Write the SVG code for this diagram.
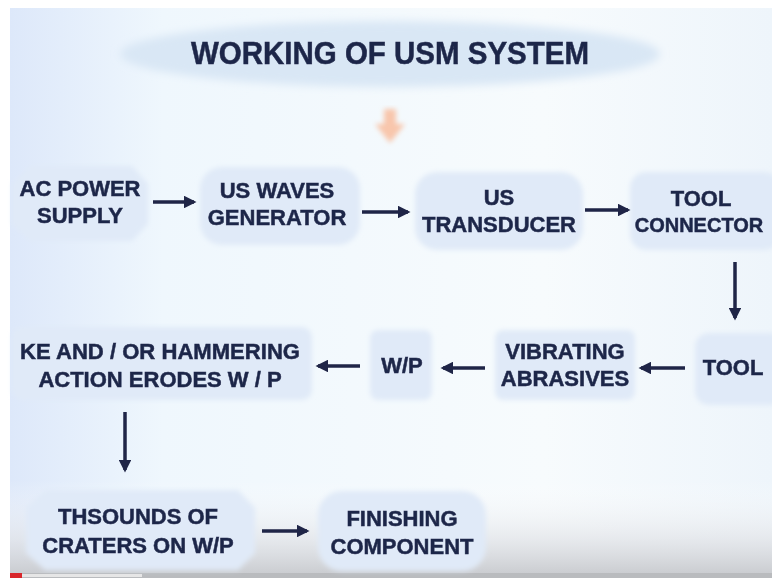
<svg xmlns="http://www.w3.org/2000/svg" width="772" height="578" viewBox="0 0 772 578">
<defs>
<linearGradient id="bg" x1="0" y1="0" x2="1" y2="0">
<stop offset="0" stop-color="#dde8fa"/>
<stop offset="0.2" stop-color="#eff7fd"/>
<stop offset="0.7" stop-color="#f7fbfd"/>
<stop offset="1" stop-color="#eef5fb"/>
</linearGradient>
<linearGradient id="bot" x1="0" y1="0" x2="0" y2="1">
<stop offset="0" stop-color="#ffffff" stop-opacity="0"/>
<stop offset="0.6" stop-color="#e2e4e8" stop-opacity="0.75"/>
<stop offset="1" stop-color="#c6c8cc" stop-opacity="1"/>
</linearGradient>
<filter id="soft" x="-10%" y="-10%" width="120%" height="120%">
<feGaussianBlur stdDeviation="2.5"/>
</filter>
<filter id="soft2" x="-10%" y="-20%" width="120%" height="140%">
<feGaussianBlur stdDeviation="4"/>
</filter>
<filter id="blurtxt" x="-5%" y="-20%" width="110%" height="140%">
<feGaussianBlur stdDeviation="0.6"/>
</filter>
<marker id="ah" viewBox="0 0 10 10" refX="8" refY="5" markerWidth="3.6" markerHeight="3.6" orient="auto" markerUnits="strokeWidth">
<path d="M0,0 L10,5 L0,10 z" fill="#1f2547"/>
</marker>
</defs>
<style>
.box{fill:#e0eaf8;filter:url(#soft)}
.t{font-family:"Liberation Sans",Arial,sans-serif;font-weight:bold;font-size:22px;fill:#1f2749;stroke:#1f2749;stroke-width:0.5;text-anchor:middle;filter:url(#blurtxt)}
.c{stroke:#1f2547;stroke-width:3.5;fill:none;marker-end:url(#ah)}
</style>
<rect width="772" height="578" fill="#ffffff"/>
<rect x="10" y="8" width="762" height="570" fill="url(#bg)"/>
<rect x="10" y="480" width="762" height="98" fill="url(#bot)"/>
<rect x="10" y="573" width="762" height="5" fill="#b9bbbe"/>
<rect x="10" y="573" width="12" height="5" fill="#d8262b"/>
<rect x="22" y="574" width="120" height="3" fill="#e6e6e6"/>

<g id="title">
<ellipse cx="390" cy="54" rx="270" ry="33" fill="#d9e7f5" filter="url(#soft2)"/>
<text x="390" y="64" class="t" style="font-size:31px" textLength="398" lengthAdjust="spacingAndGlyphs">WORKING OF USM SYSTEM</text>
</g>
<g id="orange-arrow">
<path d="M384,109 L396,109 L396,124 L405,124 L390,143 L375,124 L384,124 z" fill="#f8c6ac" filter="url(#soft)"/>
</g>

<g id="ac-power">
<path d="M30,166 L132,166 L148,184 L148,224 L132,241 L30,241 L12,224 L12,184 z" class="box"/>
<text x="80" y="196" class="t">AC POWER</text>
<text x="80" y="223" class="t">SUPPLY</text>
</g>
<g id="us-waves">
<rect x="200" y="167" width="160" height="78" rx="22" class="box"/>
<text x="277" y="198" class="t">US WAVES</text>
<text x="277" y="225" class="t">GENERATOR</text>
</g>
<g id="us-transducer">
<rect x="415" y="172" width="168" height="78" rx="22" class="box"/>
<text x="499" y="205" class="t">US</text>
<text x="499" y="232" class="t">TRANSDUCER</text>
</g>
<g id="tool-connector">
<rect x="630" y="172" width="150" height="78" rx="16" class="box"/>
<text x="701" y="206" class="t">TOOL</text>
<text x="699" y="232" class="t" style="font-size:20px">CONNECTOR</text>
</g>
<g id="tool">
<rect x="695" y="333" width="90" height="72" rx="14" class="box"/>
<text x="733" y="375" class="t">TOOL</text>
</g>
<g id="vibrating-abrasives">
<rect x="495" y="330" width="140" height="70" rx="8" class="box"/>
<text x="565" y="359" class="t">VIBRATING</text>
<text x="565" y="386" class="t">ABRASIVES</text>
</g>
<g id="wp">
<rect x="370" y="330" width="62" height="70" rx="8" class="box"/>
<text x="402" y="373" class="t">W/P</text>
</g>
<g id="ke-action">
<rect x="12" y="327" width="300" height="73" rx="10" class="box"/>
<text x="160" y="359" class="t" textLength="280" lengthAdjust="spacingAndGlyphs">KE AND / OR HAMMERING</text>
<text x="160" y="387" class="t">ACTION ERODES W / P</text>
</g>
<g id="thsounds">
<path d="M45,490 L238,490 L255,508 L255,553 L238,570 L45,570 L26,553 L26,508 z" class="box"/>
<text x="138" y="524" class="t">THSOUNDS OF</text>
<text x="138" y="553" class="t">CRATERS ON W/P</text>
</g>
<g id="finishing">
<rect x="318" y="491" width="168" height="80" rx="24" class="box"/>
<text x="402" y="526" class="t">FINISHING</text>
<text x="402" y="554" class="t">COMPONENT</text>
</g>

<g id="connectors">
<line x1="153" y1="202" x2="194" y2="202" class="c"/>
<line x1="362" y1="212" x2="408" y2="212" class="c"/>
<line x1="585" y1="210" x2="628" y2="210" class="c"/>
<line x1="735" y1="262" x2="735" y2="318" class="c"/>
<line x1="685" y1="368" x2="641" y2="368" class="c"/>
<line x1="485" y1="368" x2="443" y2="368" class="c"/>
<line x1="360" y1="366" x2="318" y2="366" class="c"/>
<line x1="125" y1="412" x2="125" y2="470" class="c"/>
<line x1="262" y1="531" x2="307" y2="531" class="c"/>
</g>
</svg>
